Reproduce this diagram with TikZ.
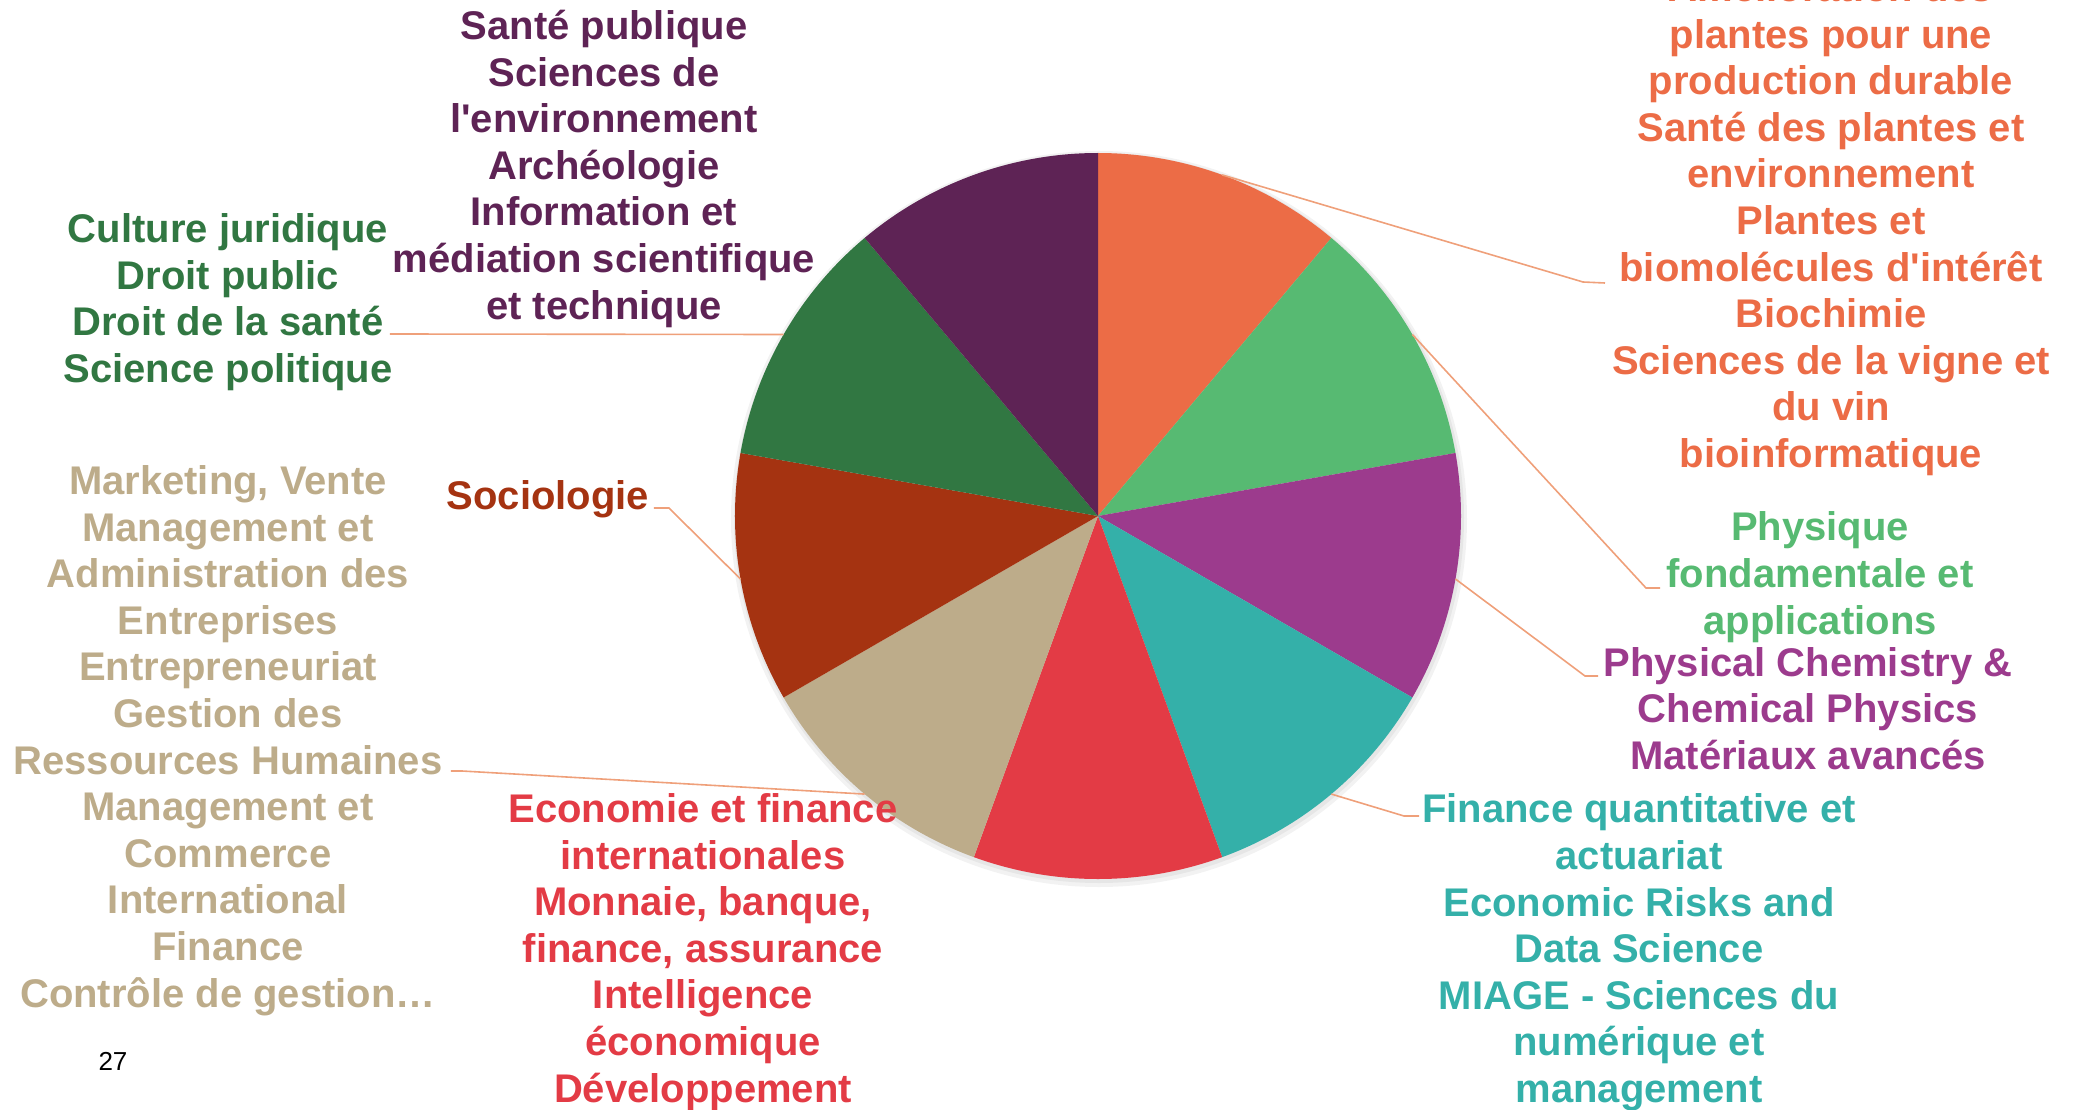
\documentclass[tikz,border=0pt]{standalone}
\usepackage{fontspec}
\newfontfamily\lblfont{Liberation Sans}

\definecolor{cOrange}{HTML}{EC6C46}
\definecolor{cGreen}{HTML}{57BA72}
\definecolor{cPurple}{HTML}{9C3B8D}
\definecolor{cTeal}{HTML}{34B0A9}
\definecolor{cRed}{HTML}{E33B45}
\definecolor{cTan}{HTML}{BDAC8A}
\definecolor{cBrown}{HTML}{A53311}
\definecolor{cDkGreen}{HTML}{317742}
\definecolor{cDkPurple}{HTML}{5E2355}
\definecolor{cLine}{HTML}{EFA07A}

\begin{document}
\begin{tikzpicture}[x=1pt,y=1pt,
  lbl/.style={font=\lblfont\bfseries\fontsize{40}{46.6}\selectfont, align=center, anchor=base, inner sep=0pt},
  leader/.style={draw=cLine, line width=1.6pt}]
  \useasboundingbox (-1098,-593) rectangle (978,516);
  % Soft shadow under the pie
  \fill[black, opacity=0.05] (1,-3) circle (368);
  \fill[black, opacity=0.05] (1,-2) circle (365);
  % Pie slices (nine equal parts, clockwise from the top)
  \foreach \col [count=\i from 0] in {cOrange,cGreen,cPurple,cTeal,cRed,cTan,cBrown,cDkGreen,cDkPurple}
    \fill[\col] (0,0) -- (90-40*\i:363) arc[start angle=90-40*\i, delta angle=-40, radius=363] -- cycle;

  % Labels (placed at the baseline of their last line)
  \node[lbl, text=cOrange] (orangeTxt) at (733,48.5) {Amélioration des\\plantes pour une\\production durable\\Santé des plantes et\\environnement\\Plantes et\\biomolécules d'intérêt\\Biochimie\\Sciences de la vigne et\\du vin\\bioinformatique};
  \node[lbl, text=cGreen] (greenTxt) at (722,-118) {Physique\\fondamentale et\\applications};
  \node[lbl, text=cPurple] (purpleTxt) at (710,-253.5) {Physical Chemistry \&\\Chemical Physics\\Matériaux avancés};
  \node[lbl, text=cTeal] (tealTxt) at (541,-586.5) {Finance quantitative et\\actuariat\\Economic Risks and\\Data Science\\MIAGE - Sciences du\\numérique et\\management};
  \node[lbl, text=cRed] (redTxt) at (-395,-586) {Economie et finance\\internationales\\Monnaie, banque,\\finance, assurance\\Intelligence\\économique\\Développement};
  \node[lbl, text=cTan] (tanTxt) at (-870,-491) {Marketing, Vente\\Management et\\Administration des\\Entreprises\\Entrepreneuriat\\Gestion des\\Ressources Humaines\\Management et\\Commerce\\International\\Finance\\Contrôle de gestion…};
  \node[lbl, text=cBrown] (brownTxt) at (-550,6.5) {Sociologie};
  \node[lbl, text=cDkGreen] (dkgreenTxt) at (-870,133.5) {Culture juridique\\Droit public\\Droit de la santé\\Science politique};
  \node[lbl, text=cDkPurple] (dkpurpleTxt) at (-494,197) {Santé publique\\Sciences de\\l'environnement\\Archéologie\\Information et\\médiation scientifique\\et technique};
  \node[font=\lblfont\fontsize{26}{30}\selectfont, anchor=base] (pageNum) at (-985,-554) {27};

  % Leader lines
  \coordinate (orangeEdge) at (70:363);
  \coordinate (orangeBend) at (485,234);
  \coordinate (orangeEnd) at (507,233);
  \coordinate (greenEdge) at (30:363);
  \coordinate (greenBend) at (548,-72);
  \coordinate (greenEnd) at (562,-72);
  \coordinate (purpleEdge) at (-10:363);
  \coordinate (purpleBend) at (487,-160);
  \coordinate (purpleEnd) at (500,-160);
  \coordinate (tealEdge) at (-50:363);
  \coordinate (tealBend) at (306,-300);
  \coordinate (tealEnd) at (321,-300);
  \coordinate (tanEdge) at (-130:363);
  \coordinate (tanBend) at (-636,-255);
  \coordinate (tanEnd) at (-647,-255);
  \coordinate (brownEdge) at (190:363);
  \coordinate (brownBend) at (-429,8);
  \coordinate (brownEnd) at (-444,8);
  \coordinate (dkgreenEdge) at (150:363);
  \coordinate (dkgreenEnd) at (-708,182);
  \draw[leader] (orangeEdge) -- (orangeBend) -- (orangeEnd);
  \draw[leader] (greenEdge) -- (greenBend) -- (greenEnd);
  \draw[leader] (purpleEdge) -- (purpleBend) -- (purpleEnd);
  \draw[leader] (tealEdge) -- (tealBend) -- (tealEnd);
  \draw[leader] (tanEdge) -- (tanBend) -- (tanEnd);
  \draw[leader] (brownEdge) -- (brownBend) -- (brownEnd);
  \draw[leader] (dkgreenEdge) -- (dkgreenEnd);
\end{tikzpicture}
\end{document}
